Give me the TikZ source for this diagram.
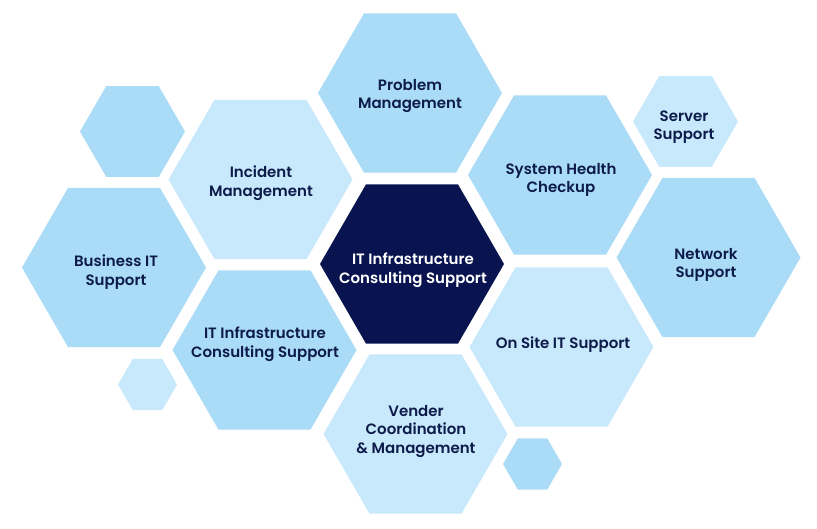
\documentclass[tikz,border=0pt]{standalone}
\usepackage{fontspec}
\setmainfont{Poppins}[UprightFont={* SemiBold}, BoldFont={* Bold}]
\definecolor{hexdark}{HTML}{ABDCF7}
\definecolor{hexlight}{HTML}{C8E8FB}
\definecolor{navy}{HTML}{08134F}
\definecolor{txt}{HTML}{0D1B4B}
\tikzset{
  lbl/.style={align=center, text=txt, font=\fontsize{15}{18.5}\selectfont, inner sep=0pt},
  lblw/.style={lbl, text=white},
}
\newcommand{\hexshape}[4]{% cx, cy, R, colour
  \fill[#4] (#1,#2) +(0:#3) -- +(60:#3) -- +(120:#3) -- +(180:#3) -- +(240:#3) -- +(300:#3) -- cycle;
}
\begin{document}
\begin{tikzpicture}[x=1pt,y=-1pt]
\useasboundingbox (0,0) rectangle (817,528);
% large hexagons
\hexshape{410}{93}{92}{hexdark}
\hexshape{260.5}{179.5}{92}{hexlight}
\hexshape{114}{267.5}{92}{hexdark}
\hexshape{264.5}{350}{92}{hexdark}
\hexshape{412}{264}{92}{navy}
\hexshape{415.5}{434}{92}{hexlight}
\hexshape{561.5}{347}{92}{hexlight}
\hexshape{560}{175}{92}{hexdark}
\hexshape{708.5}{257.5}{92}{hexdark}
% small hexagons
\hexshape{685.5}{121.5}{52.5}{hexlight}
\hexshape{132.5}{131.5}{52.5}{hexdark}
\hexshape{147.5}{384.5}{29.5}{hexlight}
\hexshape{532.5}{464}{29.5}{hexdark}
% labels
\node[lbl] (problem) at (410,96) {Problem\\Management};
\node[lbl] (incident) at (261,183) {Incident\\Management};
\node[lbl] (business) at (116,272) {Business IT\\Support};
\node[lbl] (infraleft) at (265,344) {IT Infrastructure\\Consulting Support};
\node[lblw] (center) at (413,270) {IT Infrastructure\\Consulting Support};
\node[lbl] (vender) at (416,431) {Vender\\Coordination\\\& Management};
\node[lbl] (onsite) at (563,345) {On Site IT Support};
\node[lbl] (health) at (561,180) {System Health\\Checkup};
\node[lbl] (network) at (706,265) {Network\\Support};
\node[lbl] (server) at (684,127) {Server\\Support};
\end{tikzpicture}
\end{document}
